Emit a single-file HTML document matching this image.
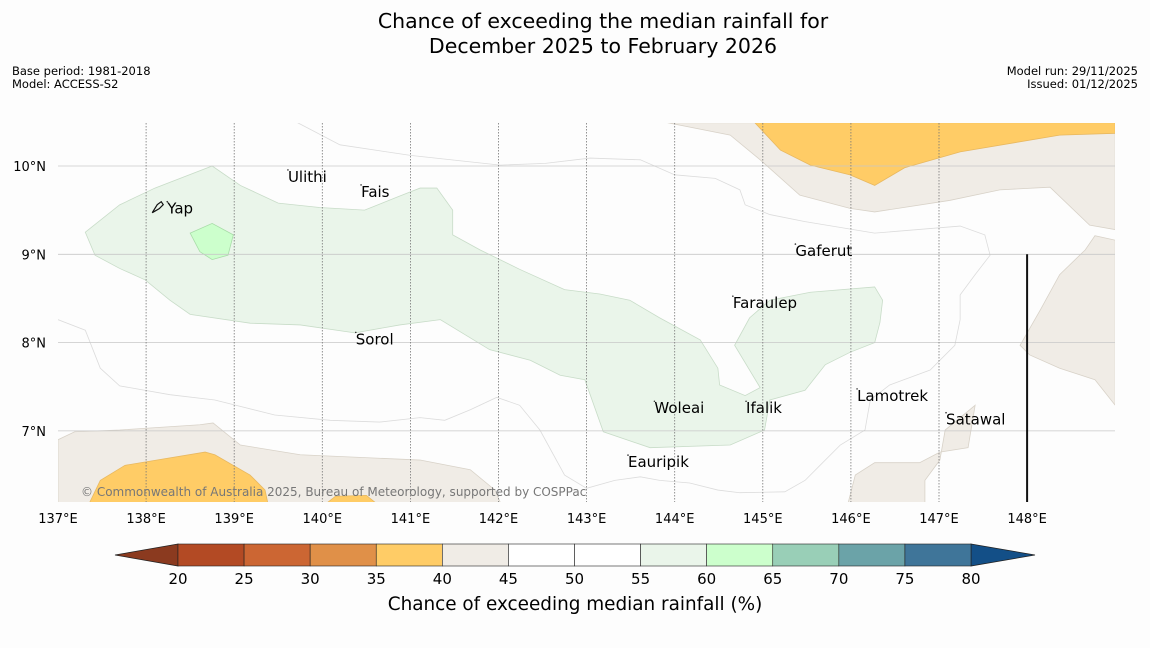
<!DOCTYPE html>
<html><head><meta charset="utf-8"><style>
body{margin:0;background:#fdfdfd;font-family:"DejaVu Sans","Liberation Sans",sans-serif;}
svg text{font-family:"DejaVu Sans","Liberation Sans",sans-serif;}
</style></head><body>
<svg id="chart" width="1150" height="644" xmlns="http://www.w3.org/2000/svg">
<rect width="1150" height="644" fill="#fdfdfd"/>
<text x="603" y="28" text-anchor="middle" font-size="20.5">Chance of exceeding the median rainfall for</text>
<text x="603" y="53" text-anchor="middle" font-size="20.5">December 2025 to February 2026</text>
<text x="12" y="75" font-size="11.5">Base period: 1981-2018</text>
<text x="12" y="88" font-size="11.5">Model: ACCESS-S2</text>
<text x="1138" y="75" text-anchor="end" font-size="11.5">Model run: 29/11/2025</text>
<text x="1138" y="88" text-anchor="end" font-size="11.5">Issued: 01/12/2025</text>
<g id="map"></g>
<g id="cbar"></g>
<text x="575" y="610" text-anchor="middle" font-size="18.4">Chance of exceeding median rainfall (%)</text>
</svg>
<script>
const lonTicks=[137,138,139,140,141,142,143,144,145,146,147,148];
const latTicks=[10,9,8,7];
const cbLevels=[20,25,30,35,40,45,50,55,60,65,70,75,80];
const cbColors=["#b34a24","#cc6633","#e09048","#ffcc66","#f0ece6","#ffffff","#ffffff","#eaf5ea","#ccffcc","#99cfb7","#6ba3a8","#3f7599"];
const regionColors=["#f0ece6","#ffcc66","#eaf5ea","#ccffcc"];
const beigeTopRight=[[143.92,10.49],[144.63,10.35],[144.97,10.07],[145.42,9.67],[145.99,9.52],[146.27,9.48],[147.12,9.61],[147.69,9.73],[148.26,9.76],[148.71,9.33],[149,9.28],[149,10.49]];
const orangeTop=[[144.91,10.49],[145.2,10.18],[145.54,10.01],[145.99,9.9],[146.27,9.78],[146.61,9.98],[147.24,10.16],[148.37,10.35],[149,10.37],[149,10.49]];
const beigeRight=[[149,9.16],[148.77,9.21],[148.66,9.05],[148.37,8.77],[148.15,8.37],[147.92,7.97],[148.03,7.86],[148.37,7.71],[148.77,7.58],[149,7.29]];
const beigeBottomRight=[[145.97,6.19],[146.05,6.5],[146.27,6.64],[146.78,6.64],[147.01,6.76],[147.33,6.81],[147.41,7.29],[147.07,7.01],[147.01,6.67],[146.84,6.44],[146.84,6.19]];
const beigeBottomLeft=[[137,6.9],[137.19,6.99],[137.7,7.01],[138.61,7.07],[138.76,7.09],[139.07,6.84],[139.75,6.73],[141.11,6.67],[141.68,6.56],[141.96,6.33],[142.02,6.19],[137,6.19]];
const orangeBottomLeft=[[137.36,6.19],[137.48,6.44],[137.76,6.61],[138.67,6.76],[138.78,6.73],[139.18,6.5],[139.35,6.33],[139.38,6.19]];
const orangeBottomMid=[[140.06,6.19],[140.15,6.26],[140.5,6.27],[140.6,6.19]];
const greenMain=[[137.31,9.25],[137.7,9.56],[138.1,9.75],[138.75,10],[139.07,9.78],[139.5,9.58],[139.97,9.53],[140.48,9.5],[140.88,9.66],[141.11,9.75],[141.3,9.75],[141.48,9.5],[141.48,9.22],[141.79,9.05],[142.24,8.83],[142.75,8.6],[143.15,8.55],[143.49,8.48],[143.83,8.28],[144.29,8.03],[144.49,7.71],[144.51,7.52],[144.8,7.4],[144.97,7.49],[144.68,7.97],[144.85,8.28],[145.08,8.48],[145.54,8.57],[146.27,8.63],[146.36,8.48],[146.33,8.23],[146.27,8],[145.99,7.89],[145.71,7.75],[145.48,7.46],[145.08,7.35],[145.02,7.01],[144.63,6.84],[143.72,6.81],[143.19,6.99],[142.98,7.58],[142.7,7.63],[142.36,7.8],[141.9,7.92],[141.34,8.26],[140.88,8.2],[140.37,8.11],[139.75,8.2],[139.18,8.22],[138.5,8.32],[138.27,8.48],[137.99,8.71],[137.7,8.84],[137.42,8.99]];
const greenBright=[[138.5,9.24],[138.75,9.35],[138.99,9.22],[138.93,8.99],[138.75,8.94],[138.61,9.03]];
const contourTop=[[139.72,10.49],[140.2,10.24],[141,10.12],[142.02,10.01],[142.53,10.03],[143.04,10.09],[143.61,10.07],[144,9.9],[144.46,9.86],[144.74,9.73],[144.8,9.56],[145.08,9.45],[145.48,9.37],[146.27,9.24],[147.24,9.32],[147.52,9.22],[147.58,8.99],[147.41,8.77],[147.24,8.54],[147.24,8.26],[147.18,7.97],[146.9,7.69],[146.44,7.52],[146.22,7.35],[146.16,7.01],[145.88,6.84],[145.65,6.61],[145.48,6.44],[145.25,6.31],[144.74,6.3],[144.49,6.33],[144.17,6.41],[143.83,6.44],[143.61,6.48],[143.32,6.44],[143,6.35],[142.75,6.5],[142.47,7.01],[142.24,7.29],[141.98,7.38],[141.68,7.24],[141.39,7.12],[141.11,7.15],[140.65,7.1],[140.09,7.12],[139.46,7.18],[138.78,7.35],[138.27,7.41],[137.7,7.51],[137.48,7.71],[137.31,8.14],[137,8.26]];
const places=["Yap","Ulithi","Fais","Gaferut","Faraulep","Sorol","Lamotrek","Woleai","Ifalik","Satawal","Eauripik"];
const placeLon=[138.24,139.61,140.44,145.37,144.66,140.38,146.07,143.77,144.81,147.08,143.47];
const placeLat=[9.46,9.82,9.65,8.98,8.39,7.98,7.34,7.2,7.2,7.07,6.59];
const L=58,T=123,R=1115,B=502;
function xS(lon){return 58+(lon-137)*88.1;}
function yS(lat){return 166+(10-lat)*88.3;}
const NS="http://www.w3.org/2000/svg";
const map=document.getElementById('map');
function mk(tag,attrs,parent){const e=document.createElementNS(NS,tag);for(const k in attrs)e.setAttribute(k,attrs[k]);parent.appendChild(e);return e;}
const clip=mk('clipPath',{id:'mclip'},map);mk('rect',{x:L,y:T,width:R-L,height:B-T},clip);
const g=mk('g',{'clip-path':'url(#mclip)'},map);
function poly(pts,fill,stroke,name){const p=mk('polygon',{points:pts.map(q=>xS(q[0])+','+yS(q[1])).join(' '),fill:fill,stroke:stroke,'stroke-width':0.8},g);

}
poly(beigeTopRight,regionColors[0],"#d8d2c8",'region-40-45-northeast');
poly(orangeTop,regionColors[1],"#e8b860",'region-35-40-north');
poly(beigeRight,regionColors[0],"#d8d2c8",'region-40-45-east');
poly(beigeBottomRight,regionColors[0],"#d8d2c8",'region-40-45-southeast');
poly(beigeBottomLeft,regionColors[0],"#d8d2c8",'region-40-45-southwest');
poly(orangeBottomLeft,regionColors[1],"#e8b860",'region-35-40-southwest');
poly(orangeBottomMid,regionColors[1],"#e8b860",'region-35-40-south');
poly(greenMain,regionColors[2],"#c8dcc8",'region-55-60-central');
poly(greenBright,regionColors[3],"#a8dca8",'region-60-65-yap');
const cl=mk('polyline',{points:contourTop.map(q=>xS(q[0])+','+yS(q[1])).join(' '),fill:'none',stroke:'#dcdcdc','stroke-width':0.8},g);


latTicks.forEach(v=>{const y=yS(v);
const ln=mk('line',{x1:L,x2:R,y1:y,y2:y,stroke:'#c8c8c8','stroke-width':0.8},g);


const t=mk('text',{x:46,y:y+5,'text-anchor':'end','font-size':13},map);t.textContent=v+'°N';

});
lonTicks.forEach(v=>{const x=xS(v);
if(v>137&&v<148){const ln=mk('line',{x1:x,x2:x,y1:T,y2:B,stroke:'#777','stroke-width':0.8,'stroke-dasharray':'1.5,1.5'},g);

}
const t=mk('text',{x:x,y:523,'text-anchor':'middle','font-size':13},map);t.textContent=v+'°E';

});
const bl=mk('line',{x1:xS(148),x2:xS(148),y1:yS(9),y2:B,stroke:'#111','stroke-width':2},g);


places.forEach((n,i)=>{const x=xS(placeLon[i]),y=yS(placeLat[i]);
const d=mk('circle',{cx:x,cy:y-12,r:0.8,fill:'#333'},map);


const t=mk('text',{x:x,y:y,'font-size':15},map);t.textContent=n;

});
const yapIcon=mk('path',{d:`M${xS(138.24)-15},${yS(9.46)-1} l5,-8 l4,-3 l2,3 l-4,4 z`,fill:'none',stroke:'#111','stroke-width':1.2},map);


const cp=mk('text',{x:81,y:496,'font-size':12,fill:'#777'},map);cp.textContent='© Commonwealth of Australia 2025, Bureau of Meteorology, supported by COSPPac';


const cb=document.getElementById('cbar');
function cx(v){return 178+(v-20)*(971-178)/60;}
const cy0=544,cy1=566;
const lo=mk('polygon',{points:`${cx(20)},${cy0} 115,${(cy0+cy1)/2} ${cx(20)},${cy1}`,fill:'#8b3a1f',stroke:'#222','stroke-width':0.8},cb);


const hi=mk('polygon',{points:`${cx(80)},${cy0} 1035,${(cy0+cy1)/2} ${cx(80)},${cy1}`,fill:'#134f87',stroke:'#222','stroke-width':0.8},cb);


cbColors.forEach((c,i)=>{const r=mk('rect',{x:cx(cbLevels[i]),y:cy0,width:cx(cbLevels[i+1])-cx(cbLevels[i]),height:cy1-cy0,fill:c,stroke:'#222','stroke-width':0.6},cb);

});
cbLevels.forEach(v=>{const t=mk('text',{x:cx(v),y:584,'text-anchor':'middle','font-size':15},cb);t.textContent=v;

});
</script>
</body></html>
